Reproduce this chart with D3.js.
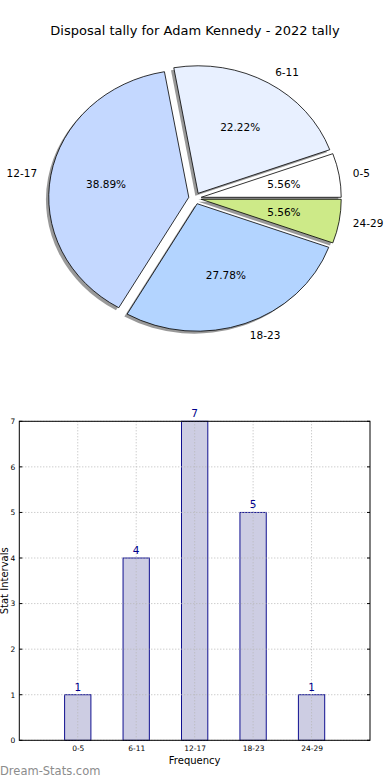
<!DOCTYPE html>
<html><head><meta charset="utf-8">
<script src="https://cdn.jsdelivr.net/npm/d3@7"></script>
<style>html,body{margin:0;padding:0;background:#fff;}svg{display:block;font-family:"DejaVu Sans",sans-serif;}</style>
</head><body>
<svg id="c" width="390" height="780"></svg>
<script>
const title = "Disposal tally for Adam Kennedy - 2022 tally";
const categories = ["0-5","6-11","12-17","18-23","24-29"];
const counts = [1,4,7,5,1];
const pieColors = ["#ffffff","#e8f0ff","#c4d8ff","#b3d4ff","#cdea88"];
const yTicks = [0,1,2,3,4,5,6,7];

const svg = d3.select("#c");
svg.append("text").attr("x",195).attr("y",35).attr("text-anchor","middle")
  .attr("font-size",13).attr("fill","#000").text(title);

// ---- Pie (matplotlib style: counterclockwise from 0 deg, elliptical, exploded, shadow)
const cx = 195, cy = 198.3, rx = 140, ry = 127.5, ex = 0.045;
const total = d3.sum(counts);
const pie = d3.pie().sort(null).value(d=>d)
  .startAngle(Math.PI/2).endAngle(Math.PI/2 - 2*Math.PI);
const arcs = pie(counts);
const arcGen = d3.arc().innerRadius(0).outerRadius(1);
const gPie = svg.append("g");
function mathAngle(a){ return Math.PI/2 - a; }
arcs.forEach((a,i)=>{
  const mid = mathAngle((a.startAngle+a.endAngle)/2);
  const ox = cx + ex*rx*Math.cos(mid), oy = cy - ex*ry*Math.sin(mid);
  const path = arcGen({startAngle:Math.min(a.startAngle,a.endAngle), endAngle:Math.max(a.startAngle,a.endAngle)});
  gPie.append("path").attr("d",path)
    .attr("transform",`translate(${ox-2.8},${oy+2.5}) scale(${rx},${ry})`)
    .attr("fill","#333").attr("opacity",0.5).attr("stroke","none");
});
arcs.forEach((a,i)=>{
  const mid = mathAngle((a.startAngle+a.endAngle)/2);
  const ox = cx + ex*rx*Math.cos(mid), oy = cy - ex*ry*Math.sin(mid);
  const path = arcGen({startAngle:Math.min(a.startAngle,a.endAngle), endAngle:Math.max(a.startAngle,a.endAngle)});
  gPie.append("path").attr("d",path)
    .attr("transform",`translate(${ox},${oy}) scale(${rx},${ry})`)
    .attr("fill",pieColors[i]).attr("stroke","#000").attr("stroke-width",0.8)
    .attr("vector-effect","non-scaling-stroke").attr("stroke-linejoin","round");
  const lx = ox + 1.1*rx*Math.cos(mid), ly = oy - 1.1*ry*Math.sin(mid);
  gPie.append("text").attr("x",lx).attr("y",ly).attr("dy","0.35em")
    .attr("text-anchor", Math.cos(mid)>0 ? "start" : "end")
    .attr("font-size",10.5).attr("fill","#000").text(categories[i]);
  const px = ox + 0.6*rx*Math.cos(mid), py = oy - 0.6*ry*Math.sin(mid);
  gPie.append("text").attr("x",px).attr("y",py).attr("dy","0.35em")
    .attr("text-anchor","middle").attr("font-size",10.5).attr("fill","#000")
    .text((counts[i]/total*100).toFixed(2)+"%");
});

// ---- Bar chart
const L = 19.3, R = 370, T = 421.3, B = 740.3;
const x = d3.scaleLinear().domain([0,6]).range([L,R]);
const y = d3.scaleLinear().domain([0,7]).range([B,T]);
const bw = 0.45;
const gB = svg.append("g");
gB.selectAll("rect.bar").data(counts).join("rect")
  .attr("x",(d,i)=>x(i+1-bw/2)).attr("width",x(bw)-x(0))
  .attr("y",d=>y(d)).attr("height",d=>y(0)-y(d))
  .attr("fill","#cdcde3").attr("stroke","#101090").attr("stroke-width",1);
const grid = gB.append("g").attr("stroke","#b8b8b8").attr("stroke-width",1).attr("stroke-dasharray","1,2");
yTicks.forEach(t=>grid.append("line").attr("x1",L).attr("x2",R).attr("y1",y(t)).attr("y2",y(t)));
categories.forEach((c,i)=>grid.append("line").attr("x1",x(i+1)).attr("x2",x(i+1)).attr("y1",T).attr("y2",B));
gB.append("rect").attr("x",L).attr("y",T).attr("width",R-L).attr("height",B-T)
  .attr("fill","none").attr("stroke","#000").attr("stroke-width",1);
const yAxis = d3.axisLeft(y).tickValues(yTicks).tickSize(0).tickPadding(4).tickFormat(d3.format("d"));
const ya = gB.append("g").attr("transform",`translate(${L},0)`).call(yAxis);
ya.select(".domain").remove();
ya.selectAll("text").attr("font-size",7.5).attr("fill","#000").attr("font-family","DejaVu Sans");
yTicks.forEach(t=>{
  gB.append("line").attr("x1",L).attr("x2",L+3).attr("y1",y(t)).attr("y2",y(t)).attr("stroke","#000");
  gB.append("line").attr("x1",R-3).attr("x2",R).attr("y1",y(t)).attr("y2",y(t)).attr("stroke","#000");
});
const xAxis = d3.axisBottom(x).tickValues([1,2,3,4,5]).tickSize(0).tickPadding(5)
  .tickFormat((d)=>categories[d-1]);
const xa = gB.append("g").attr("transform",`translate(0,${B})`).call(xAxis);
xa.select(".domain").remove();
xa.selectAll("text").attr("font-size",7.5).attr("fill","#000").attr("font-family","DejaVu Sans");
gB.selectAll("text.val").data(counts).join("text").attr("class","val")
  .attr("x",(d,i)=>x(i+1)).attr("y",d=>y(d)-4).attr("text-anchor","middle")
  .attr("font-size",10.5).attr("fill","#00008b").text(d=>d);
svg.append("text").attr("x",(L+R)/2).attr("y",764).attr("text-anchor","middle")
  .attr("font-size",10).attr("fill","#000").text("Frequency");
svg.append("text").attr("transform",`translate(8,${(T+B)/2}) rotate(-90)`).attr("text-anchor","middle")
  .attr("font-size",10).attr("fill","#000").text("Stat Intervals");
svg.append("text").attr("x",0).attr("y",775).attr("font-size",11.5).attr("font-weight","normal")
  .attr("fill","#8c8c8c").text("Dream-Stats.com");
</script>
</body></html>
